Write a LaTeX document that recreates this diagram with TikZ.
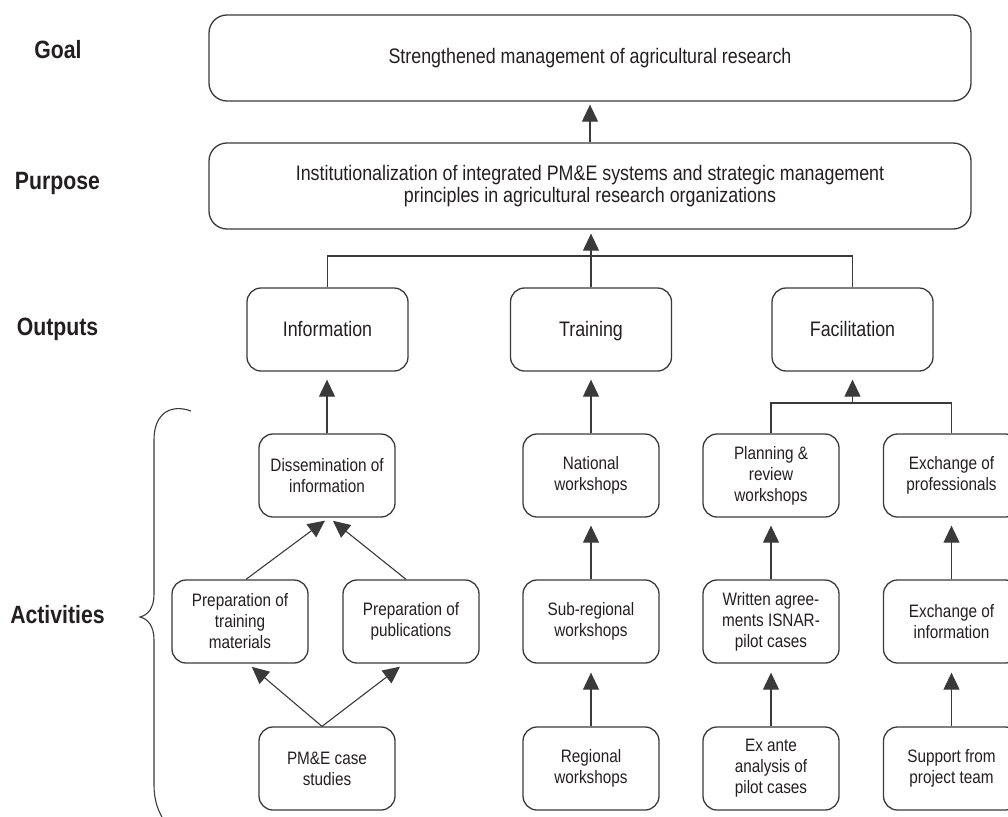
\documentclass[tikz,border=0pt]{standalone}
\usepackage{fontspec}
\setmainfont{Liberation Sans}[FakeStretch=0.85]
\usetikzlibrary{arrows.meta}
\definecolor{ink}{HTML}{231F20}
\definecolor{edge}{HTML}{3A3A3A}
\tikzset{
  big/.style={draw=edge, line width=1.3pt, rounded corners=18pt,
    minimum width=762pt, minimum height=86pt, inner sep=0pt,
    align=center, text=ink, font=\fontsize{21}{22}\selectfont},
  outbox/.style={draw=edge, line width=1.3pt, rounded corners=14pt,
    minimum width=161pt, minimum height=83pt, inner sep=0pt,
    text height=16pt, text depth=3pt,
    align=center, text=ink, font=\fontsize{21}{22}\selectfont},
  act/.style={draw=edge, line width=1.3pt, rounded corners=14pt,
    minimum width=136pt, minimum height=83pt, inner sep=0pt,
    align=center, text=ink, font=\fontsize{18}{21}\selectfont},
  level/.style={anchor=base, text=ink, font=\fontsize{25}{25}\selectfont\bfseries},
  link/.style={draw=edge, line width=1.1pt},
  arr/.style={link, -{Triangle[length=17pt,width=16pt]}},
}
\begin{document}
\begin{tikzpicture}[x=1pt,y=-1pt]
\clip (0,0) rectangle (1008,816);

% level labels
\node[level] (lgoal) at (58,59) {Goal};
\node[level] (lpurp) at (57.5,189) {Purpose};
\node[level] (lout)  at (57.5,335) {Outputs};
\node[level] (lact)  at (57.5,623) {Activities};

% goal and purpose
\node[big] (goal) at (590,58) {Strengthened management of agricultural research};
\node[big] (purp) at (590,186) {Institutionalization of integrated PM\&E systems and strategic management\\principles in agricultural research organizations};

% outputs
\node[outbox] (info)  at (327.5,329.5) {Information};
\node[outbox] (train) at (591,329.5)   {Training};
\node[outbox] (fac)   at (852.5,329.5) {Facilitation};

% activities, upper row
\node[act] (diss)   at (327,475.5)   {Dissemination of\\information};
\node[act] (nat)    at (591,475.5)   {National\\workshops};
\node[act] (plan)   at (771,475.5)   {Planning \&\\review\\workshops};
\node[act] (exprof) at (951.5,475.5) {Exchange of\\professionals};

% activities, middle row
\node[act] (trn)    at (240,621.5)   {Preparation of\\training\\materials};
\node[act] (pub)    at (411,621.5)   {Preparation of\\publications};
\node[act] (sub)    at (591,621.5)   {Sub-regional\\workshops};
\node[act] (writ)   at (771,621.5)   {Written agree-\\ments ISNAR-\\pilot cases};
\node[act] (exinfo) at (951.5,621.5) {Exchange of\\information};

% activities, lower row
\node[act] (case)   at (327,768.5)   {PM\&E case\\studies};
\node[act] (reg)    at (591,768.5)   {Regional\\workshops};
\node[act] (exante) at (771,768.5)   {Ex ante\\analysis of\\pilot cases};
\node[act] (supp)   at (951.5,768.5) {Support from\\project team};

% purpose -> goal
\draw[arr, shorten >=3pt] (purp.north -| goal.south) -- (goal.south);

% outputs -> purpose
\coordinate (obus) at (591,256);
\draw[link] (info.north) |- (obus) -| (fac.north);
\draw[arr, shorten >=4pt] (train.north) -- (train.north |- purp.south);

% upper activities -> outputs
\draw[arr, shorten >=8pt] (diss.north) -- (diss.north |- info.south);
\draw[arr, shorten >=8pt] (nat.north) -- (nat.north |- train.south);
\coordinate (fbus) at (852.5,403);
\draw[link] (plan.north) |- (fbus) -| (exprof.north);
\draw[arr, shorten >=8pt] (fbus) -- (fac.south);

% information column
\draw[arr, shorten >=5pt] ([xshift=6pt]trn.north) -- ([xshift=2pt]diss.south);
\draw[arr, shorten >=5pt] ([xshift=-5pt]pub.north) -- ([xshift=2pt]diss.south);
\draw[arr, shorten >=5pt] ([xshift=-5pt]case.north) -- ([xshift=8pt]trn.south);
\draw[arr, shorten >=5pt] ([xshift=-5pt]case.north) -- ([xshift=-7pt]pub.south);

% training column
\draw[arr, shorten >=8pt] (sub.north) -- (nat.south);
\draw[arr, shorten >=9pt] (reg.north) -- (sub.south);

% facilitation columns
\draw[arr, shorten >=8pt] (writ.north) -- (plan.south);
\draw[arr, shorten >=9pt] (exante.north) -- (writ.south);
\draw[arr, shorten >=8pt] (exinfo.north) -- (exprof.south);
\draw[arr, shorten >=9pt] (supp.north) -- (exinfo.south);

% brace grouping the activities
\draw[edge, line width=1.1pt]
  (191,411) .. controls (172,404) and (154,412) .. (154,440)
  -- (154,594) .. controls (154,608) and (148,615) .. (140,617)
  .. controls (148,619) and (154,626) .. (154,640)
  -- (154,785) .. controls (154,800) and (158,810) .. (162,817);
\end{tikzpicture}
\end{document}
